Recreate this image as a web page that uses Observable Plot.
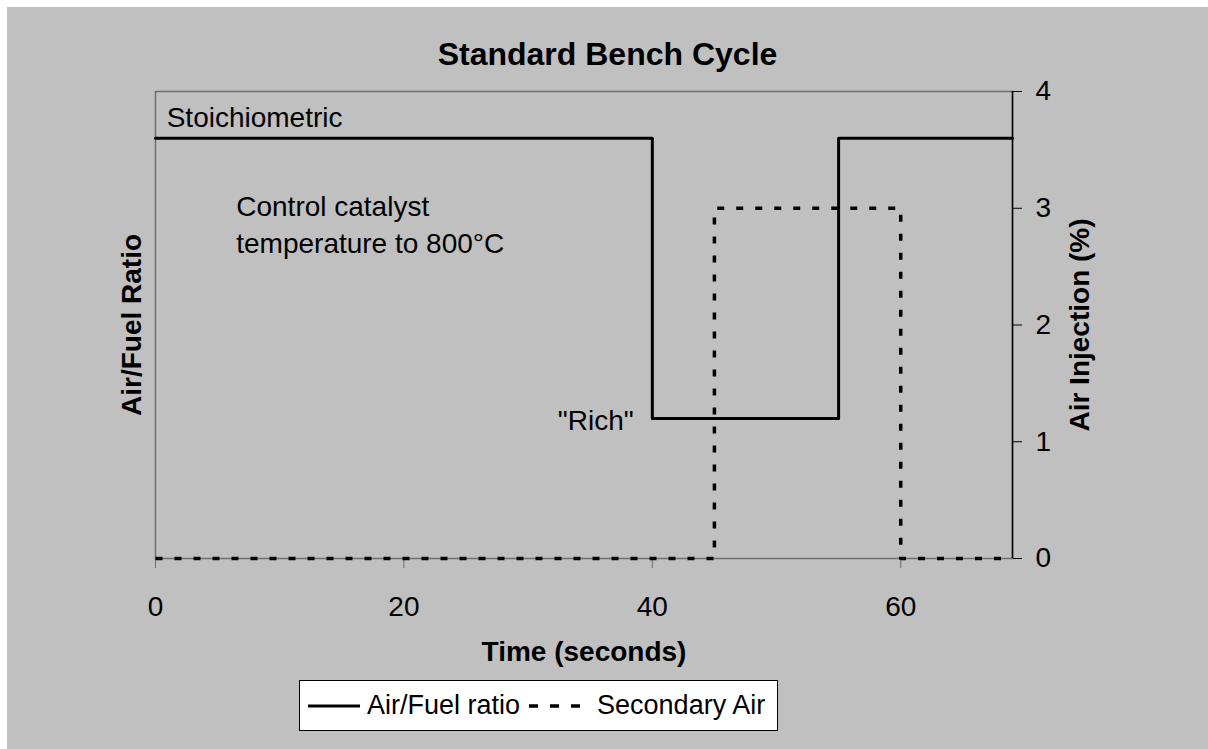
<!DOCTYPE html>
<html>
<head>
<meta charset="utf-8">
<script src="https://cdn.jsdelivr.net/npm/d3@7"></script>
<script src="https://cdn.jsdelivr.net/npm/@observablehq/plot@0.6"></script>
<style>
  html, body { margin: 0; padding: 0; background: #ffffff; }
  #page { position: relative; width: 1208px; height: 749px; overflow: hidden; font-family: "Liberation Sans", Arial, sans-serif; }
  #bg { position: absolute; left: 7px; top: 7px; right: 0; bottom: 0; background: #c0c0c0; }
  #chart { position: absolute; left: 0; top: 0; }
  #title { position: absolute; left: 7px; width: 1201px; top: 38px; text-align: center; font-size: 32px; font-weight: bold; line-height: 1; color: #000; }
  #legend { position: absolute; left: 299px; top: 680px; width: 479px; height: 51px; box-sizing: border-box; border: 1px solid #000; background: #fff; display: flex; align-items: center; padding-left: 8px; font-size: 27px; color: #000; white-space: nowrap; }
  #legend svg { display: block; }
</style>
</head>
<body>
<div id="page">
  <div id="bg"></div>
  <div id="chart"></div>
  <div id="title">Standard Bench Cycle</div>
  <div id="legend"></div>
</div>
<script>
// ---- data ----
const afTime = [0, 40, 55, 69];
const afRatio = [3.6, 1.2, 3.6, 3.6];
const airTime = [0, 45, 60, 69];
const airPct = [0, 3, 0, 0];
const xTicks = [0, 20, 40, 60];
const yTicks = [0, 1, 2, 3, 4];
const xDomain = [0, 69];
const yDomain = [0, 4];
const seriesNames = ["Air/Fuel ratio", "Secondary Air"];
const annotations = [
  {x: 0.9, y: 3.8, text: "Stoichiometric", anchor: "start"},
  {x: 6.5, y: 2.88, text: "Control catalyst\ntemperature to 800°C", anchor: "start"},
  {x: 38.5, y: 1.2, text: "\"Rich\"", anchor: "end"}
];

const afData = afTime.map((t, i) => ({t, v: afRatio[i]}));
const airData = airTime.map((t, i) => ({t, v: airPct[i]}));

const FONT = "\"Liberation Sans\", Arial, sans-serif";
const DASH = "7,12";

const noteStyle = {x: "x", y: "y", text: "text", lineAnchor: "middle", lineHeight: 1.33, fontSize: 28, fill: "#000"};

const chart = Plot.plot({
  width: 1208,
  height: 700,
  marginTop: 91,
  marginBottom: 142,
  marginLeft: 155,
  marginRight: 196,
  style: {background: "transparent", fontFamily: FONT, fontSize: "28px", color: "#000", overflow: "visible"},
  x: {domain: xDomain, axis: null},
  y: {domain: yDomain, axis: null},
  marks: [
    Plot.frame({stroke: "#6e6e6e", strokeWidth: 1.5}),
    Plot.axisX({ticks: xTicks, tickSize: 10, tickPadding: 28, stroke: "#6e6e6e", label: null, fontSize: 28, tickFormat: d => String(d)}),
    Plot.axisY({anchor: "right", ticks: yTicks, tickSize: 9, tickPadding: 14, stroke: "#000", label: null, fontSize: 28, tickFormat: d => String(d)}),
    Plot.ruleX([xDomain[1]], {stroke: "#000", strokeWidth: 1.5}),
    Plot.line(airData, {x: "t", y: "v", curve: "step-after", stroke: "#000", strokeWidth: 3.5, strokeDasharray: DASH, strokeLinecap: "butt"}),
    Plot.line(afData, {x: "t", y: "v", curve: "step-after", stroke: "#000", strokeWidth: 3}),
    Plot.text(annotations.filter(d => d.anchor === "start"), {...noteStyle, textAnchor: "start"}),
    Plot.text(annotations.filter(d => d.anchor === "end"), {...noteStyle, textAnchor: "end"}),
    Plot.text(["Time (seconds)"], {frameAnchor: "bottom", dy: 94, textAnchor: "middle", lineAnchor: "middle", fontWeight: "bold", fontSize: 28, fill: "#000"}),
    Plot.text(["Air/Fuel Ratio"], {frameAnchor: "left", dx: -23, rotate: -90, textAnchor: "middle", lineAnchor: "middle", fontWeight: "bold", fontSize: 28, fill: "#000"}),
    Plot.text(["Air Injection (%)"], {frameAnchor: "right", dx: 68, rotate: -90, textAnchor: "middle", lineAnchor: "middle", fontWeight: "bold", fontSize: 28, fill: "#000"})
  ]
});
document.getElementById("chart").appendChild(chart);

// ---- legend ----
const legend = document.getElementById("legend");
function swatch(dash) {
  const ns = "http://www.w3.org/2000/svg";
  const svg = document.createElementNS(ns, "svg");
  svg.setAttribute("width", 52);
  svg.setAttribute("height", 10);
  const ln = document.createElementNS(ns, "line");
  ln.setAttribute("x1", 0); ln.setAttribute("x2", 52);
  ln.setAttribute("y1", 5); ln.setAttribute("y2", 5);
  ln.setAttribute("stroke", "#000");
  ln.setAttribute("stroke-width", dash ? 3.5 : 3);
  if (dash) ln.setAttribute("stroke-dasharray", "9,12");
  svg.appendChild(ln);
  return svg;
}
seriesNames.forEach((name, i) => {
  const sw = swatch(i === 1);
  sw.style.marginLeft = i === 0 ? "0px" : "9px";
  sw.style.marginRight = i === 0 ? "7px" : "16px";
  legend.appendChild(sw);
  const span = document.createElement("span");
  span.textContent = name;
  legend.appendChild(span);
});
</script>
</body>
</html>
